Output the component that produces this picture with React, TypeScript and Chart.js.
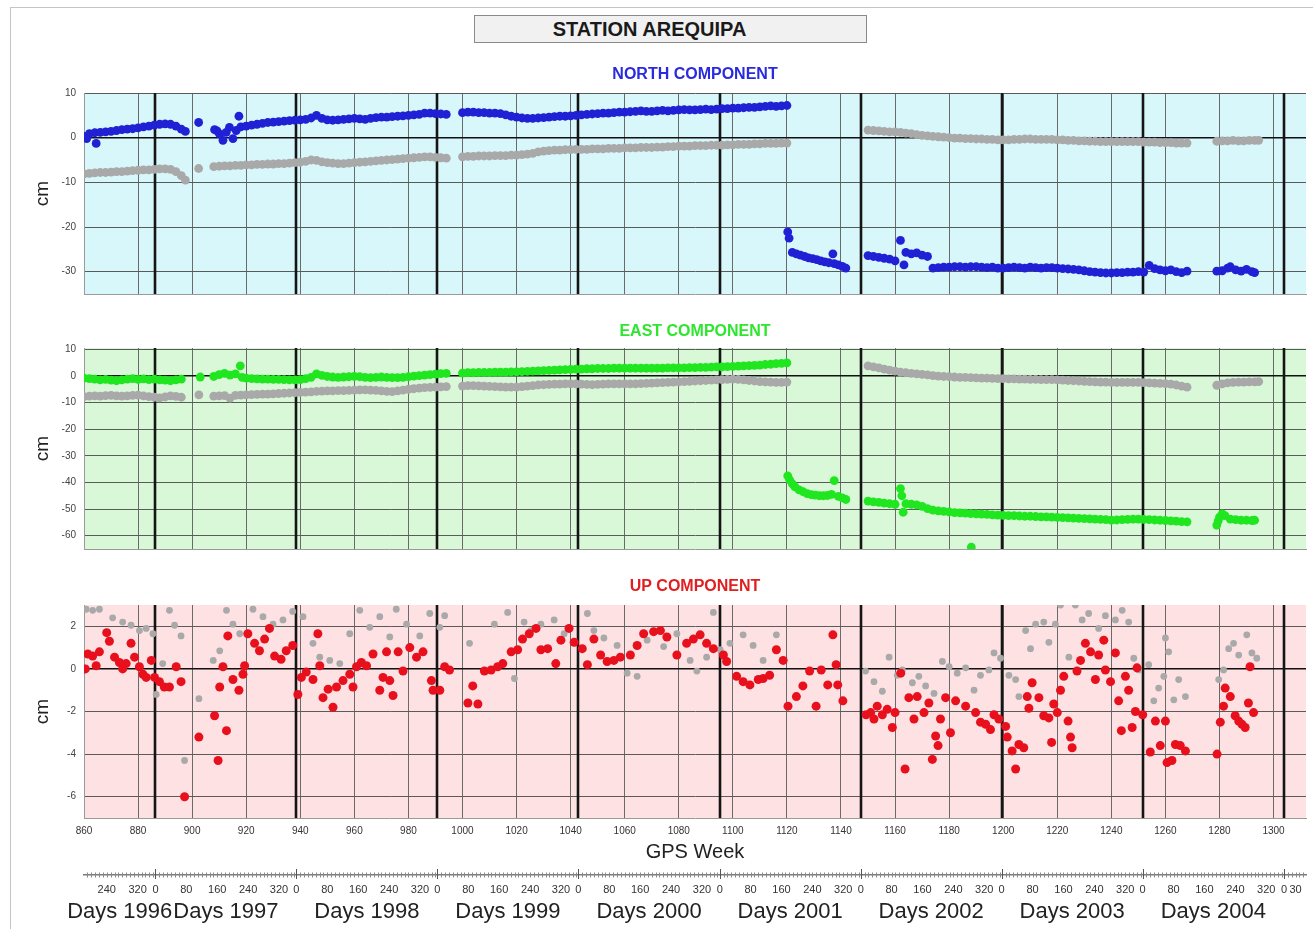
import React, { useEffect, useRef } from "react";
import { Chart, registerables } from "chart.js";
Chart.register(...registerables);

const FONT = "'Liberation Sans', Arial, Helvetica, sans-serif";

// GPS week at 1 January of each year (1996 .. 2005)
const YEAR_START_WEEKS = [834.14, 886.43, 938.57, 990.71, 1042.86, 1095.14, 1147.29, 1199.43, 1251.57, 1303.86];
const YEARS = [1996, 1997, 1998, 1999, 2000, 2001, 2002, 2003, 2004, 2005];
const GPS_WEEK_TICKS = [860, 880, 900, 920, 940, 960, 980, 1000, 1020, 1040, 1060, 1080, 1100, 1120, 1140, 1160, 1180, 1200, 1220, 1240, 1260, 1280, 1300];
const DAY_TICKS = [0, 80, 160, 240, 320];
const LAST_YEAR_DAY_TICKS = [0, 30];
const NORTH_TICKS = [10, 0, -10, -20, -30];
const EAST_TICKS = [10, 0, -10, -20, -30, -40, -50, -60];
const UP_TICKS = [2, 0, -2, -4, -6];
const X_MIN = 860;
const X_MAX = 1312;

// ---------------- NORTH ----------------
const N_BLUE_A = [0.3, 0.9, 1.1, 1.2, 1.3, 1.4, 1.6, 1.8, 1.9, 2.0, 2.2, 2.4, 2.6, 2.8, 3.0, 3.1, 3.0, 2.6, 1.9]; // 860.. step 2
const N_BLUE_X = [[861, -0.2], [864.5, -1.3], [897.5, 1.4], [902.4, 3.4], [908.3, 1.8], [909.2, 1.5], [910.1, 0.85], [911.4, -0.6], [912.6, 1.2], [913.8, 2.3], [915.1, -0.2], [916.3, 1.6], [917.3, 4.8]];
const N_BLUE_C = [2.4, 2.6, 2.8, 3.0, 3.2, 3.4, 3.5, 3.6, 3.7, 3.8, 3.9, 4.0, 4.1, 4.4, 5.0, 4.3, 4.0, 3.9, 4.0, 4.1, 4.2, 4.3, 4.2, 4.1, 4.3, 4.5, 4.6, 4.6, 4.7, 4.8, 4.9, 5.0, 5.1, 5.2, 5.5, 5.5, 5.4, 5.3, 5.2]; // 918.. step 2
const N_BLUE_D = [5.6, 5.7, 5.7, 5.6, 5.6, 5.5, 5.5, 5.4, 5.1, 4.8, 4.6, 4.4, 4.3, 4.3, 4.4, 4.5, 4.6, 4.7, 4.8, 4.8, 4.9, 5.0, 5.1, 5.2, 5.3, 5.4, 5.5, 5.5, 5.6, 5.7, 5.7, 5.8, 5.9, 6.0, 5.9, 5.9, 6.0, 6.1, 6.0, 6.1, 6.2, 6.3, 6.2, 6.2, 6.3, 6.4, 6.3, 6.4, 6.5, 6.5, 6.6, 6.6, 6.7, 6.8, 6.8, 6.9, 7.0, 7.1, 7.0, 7.1, 7.2]; // 1000.. step 2
const N_BLUE_Q = [[1120.3, -21.1], [1120.8, -22.5], [1122, -25.7], [1123.5, -26.0], [1125, -26.3], [1126.5, -26.6], [1128, -26.9], [1129.5, -27.1], [1131, -27.3], [1132.5, -27.6], [1134, -27.8], [1135.5, -28.0], [1137, -26.0], [1137.5, -28.2], [1139, -28.5], [1140.5, -28.8], [1141.8, -29.2],
  [1150, -26.4], [1152, -26.6], [1154, -26.8], [1156, -27.0], [1158, -27.2], [1160, -27.6], [1162, -23.0], [1163.3, -28.5], [1164, -25.7], [1166, -26.0], [1168, -25.8], [1170, -26.3], [1172, -26.6]];
const N_BLUE_E = [-29.2, -29.1, -29.0, -29.0, -28.9, -28.9, -29.0, -28.9, -28.9, -29.0, -29.1, -29.0, -29.2, -29.2, -29.1, -29.0, -29.1, -29.2, -29.0, -29.1, -29.2, -29.1, -29.1, -29.2, -29.3, -29.4, -29.5, -29.6, -29.8, -30.0, -30.1, -30.2, -30.3, -30.3, -30.2, -30.2, -30.1, -30.1, -30.0, -30.1, -28.6, -29.3, -29.6, -29.8, -29.6, -30.0, -30.2, -29.9]; // 1174.. step 2
const N_BLUE_F = [[1279, -29.9], [1281, -29.8], [1283, -29.2], [1284, -28.9], [1286, -29.6], [1288, -29.9], [1290, -29.5], [1292, -30.0], [1293, -30.2]];

const N_GRAY_A = [-8.1, -8.0, -7.9, -7.8, -7.8, -7.7, -7.6, -7.6, -7.5, -7.4, -7.3, -7.2, -7.2, -7.1, -7.0, -7.0, -7.1, -7.6, -8.5]; // 860.. step 2
const N_GRAY_X = [[897.5, -9.5], [902.4, -6.9]];
const N_GRAY_C = [-6.5, -6.4, -6.3, -6.3, -6.2, -6.2, -6.1, -6.1, -6.0, -6.0, -5.9, -5.9, -5.8, -5.8, -5.7, -5.6, -5.5, -5.3, -5.0, -5.1, -5.4, -5.6, -5.7, -5.8, -5.8, -5.7, -5.6, -5.5, -5.4, -5.3, -5.2, -5.1, -5.0, -4.9, -4.8, -4.7, -4.6, -4.5, -4.4, -4.3, -4.3, -4.4, -4.5, -4.6]; // 908.. step 2
const N_GRAY_D = [-4.3, -4.2, -4.2, -4.1, -4.1, -4.1, -4.0, -4.0, -4.0, -3.9, -3.9, -3.8, -3.7, -3.5, -3.2, -3.0, -2.9, -2.8, -2.8, -2.7, -2.7, -2.6, -2.6, -2.6, -2.5, -2.5, -2.5, -2.4, -2.4, -2.4, -2.3, -2.3, -2.3, -2.2, -2.2, -2.2, -2.1, -2.1, -2.0, -2.0, -1.9, -1.9, -1.9, -1.8, -1.8, -1.8, -1.7, -1.7, -1.7, -1.6, -1.6, -1.5, -1.5, -1.5, -1.4, -1.4, -1.3, -1.3, -1.3, -1.2, -1.2]; // 1000.. step 2
const N_GRAY_E = [1.7, 1.6, 1.5, 1.4, 1.3, 1.3, 1.2, 1.0, 0.9, 0.7, 0.5, 0.4, 0.3, 0.2, 0.1, 0.0, -0.1, -0.1, -0.2, -0.2, -0.3, -0.3, -0.4, -0.4, -0.5, -0.5, -0.5, -0.4, -0.4, -0.3, -0.3, -0.4, -0.4, -0.4, -0.4, -0.5, -0.5, -0.6, -0.6, -0.7, -0.7, -0.8, -0.8, -0.9, -0.9, -0.9, -0.9, -0.9, -0.9, -0.9, -0.9, -1.0, -1.0, -1.0, -1.1, -1.1, -1.1, -1.2, -1.2, -1.2]; // 1150.. step 2
const N_GRAY_F = [[1279, -0.8], [1281, -0.7], [1283, -0.7], [1285, -0.6], [1287, -0.7], [1289, -0.7], [1291, -0.6], [1293, -0.6], [1294.5, -0.6]];

// ---------------- EAST ----------------
const E_GREEN_A = [-0.8, -1.0, -1.2, -1.5, -1.3, -1.6, -1.8, -1.5, -1.2, -1.0, -1.3, -1.1, -1.4, -1.2, -1.5, -1.6, -1.8, -1.5, -1.2]; // 860.. step 2
const E_GREEN_X = [[903, -0.4], [908, -0.2], [910, 0.5], [912, 1.0], [914, 0.3], [916, 0.8], [917.8, 3.8], [918.5, -0.5]];
const E_GREEN_C = [-0.8, -1.0, -1.1, -1.2, -1.2, -1.3, -1.3, -1.4, -1.5, -1.5, -1.4, -1.0, -0.5, 0.8, 0.2, -0.2, -0.4, -0.5, -0.4, -0.3, -0.2, -0.3, -0.5, -0.6, -0.5, -0.4, -0.5, -0.6, -0.6, -0.5, -0.3, -0.1, 0.1, 0.3, 0.5, 0.7, 0.9, 1.0]; // 920.. step 2
const E_GREEN_D = [1.1, 1.2, 1.2, 1.3, 1.3, 1.3, 1.4, 1.4, 1.4, 1.5, 1.5, 1.6, 1.7, 1.8, 1.9, 2.0, 2.1, 2.2, 2.3, 2.4, 2.5, 2.6, 2.6, 2.7, 2.7, 2.8, 2.8, 2.8, 2.9, 2.9, 2.9, 2.9, 2.9, 2.9, 2.9, 2.9, 2.9, 2.9, 3.0, 3.0, 3.0, 3.0, 3.1, 3.1, 3.2, 3.2, 3.3, 3.4, 3.4, 3.5, 3.6, 3.7, 3.8, 3.9, 4.0, 4.1, 4.3, 4.4, 4.6, 4.7, 4.9]; // 1000.. step 2
const E_GREEN_Q = [[1120.3, -37.5], [1121, -39.0], [1122, -40.5], [1123, -41.7], [1124.5, -42.8], [1126, -43.5], [1127.5, -44.2], [1129, -44.6], [1130.5, -44.8], [1132, -45.0], [1133.5, -45.0], [1135, -44.9], [1136.5, -44.5], [1137.5, -39.3], [1139, -45.2], [1140.5, -45.8], [1141.8, -46.4],
  [1150, -47.0], [1152, -47.3], [1154, -47.5], [1156, -47.8], [1158, -48.0], [1160, -48.2], [1162, -42.3], [1162.5, -45.0], [1163, -51.2], [1164, -48.0], [1166, -48.2], [1168, -48.4], [1170, -49.0], [1172, -49.8], [1188.2, -64.3]];
const E_GREEN_E = [-50.4, -50.7, -50.9, -51.1, -51.3, -51.4, -51.5, -51.7, -51.8, -51.9, -52.0, -52.2, -52.3, -52.4, -52.5, -52.5, -52.6, -52.7, -52.7, -52.8, -52.9, -52.9, -53.0, -53.1, -53.2, -53.3, -53.4, -53.5, -53.6, -53.7, -53.8, -53.9, -54.0, -54.2, -54.1, -54.0, -53.9, -53.8, -53.8, -53.9, -54.0, -54.1, -54.2, -54.3, -54.4, -54.5, -54.7, -54.8]; // 1174.. step 2
const E_GREEN_F = [[1279, -56.0], [1279.5, -54.5], [1280, -53.0], [1281, -51.8], [1282, -52.5], [1284, -53.8], [1286, -54.0], [1288, -54.2], [1290, -54.2], [1292, -54.3], [1293, -54.2]];

const E_GRAY_A = [-7.8, -7.6, -7.5, -7.6, -7.4, -7.3, -7.5, -7.6, -7.5, -7.3, -7.2, -7.5, -7.8, -8.0, -8.2, -7.9, -7.5, -7.7, -8.0]; // 860.. step 2
const E_GRAY_X = [[902.5, -7.1]];
const E_GRAY_C = [-7.6, -7.5, -7.4, -8.3, -7.3, -7.2, -7.1, -7.0, -6.9, -6.8, -6.8, -6.7, -6.6, -6.5, -6.4, -6.3, -6.2, -6.1, -6.0, -5.8, -5.7, -5.6, -5.6, -5.5, -5.5, -5.4, -5.3, -5.2, -5.2, -5.3, -5.4, -5.6, -5.8, -5.9, -5.6, -5.3, -5.0, -4.8, -4.6, -4.4, -4.3, -4.2, -4.1, -4.0]; // 908.. step 2
const E_GRAY_D = [-3.8, -3.6, -3.6, -3.7, -3.8, -3.9, -4.0, -4.1, -4.2, -4.2, -4.2, -4.0, -3.8, -3.6, -3.4, -3.3, -3.2, -3.1, -3.1, -3.0, -3.0, -3.0, -3.1, -3.2, -3.3, -3.2, -3.1, -3.0, -3.0, -3.0, -3.0, -3.0, -3.0, -2.9, -2.8, -2.7, -2.6, -2.5, -2.4, -2.3, -2.2, -2.1, -2.0, -1.9, -1.8, -1.7, -1.6, -1.5, -1.4, -1.3, -1.2, -1.3, -1.5, -1.7, -1.9, -2.1, -2.2, -2.3, -2.4, -2.4, -2.3]; // 1000.. step 2
const E_GRAY_E = [3.8, 3.4, 3.0, 2.6, 2.2, 1.8, 1.4, 1.2, 1.0, 0.8, 0.6, 0.4, 0.1, -0.1, -0.2, -0.3, -0.4, -0.5, -0.5, -0.6, -0.7, -0.8, -0.8, -0.9, -1.0, -1.0, -1.1, -1.1, -1.2, -1.2, -1.3, -1.3, -1.4, -1.4, -1.4, -1.5, -1.6, -1.7, -1.8, -1.9, -2.0, -2.1, -2.2, -2.3, -2.3, -2.4, -2.4, -2.4, -2.4, -2.4, -2.4, -2.5, -2.6, -2.7, -2.8, -2.9, -3.1, -3.4, -3.8, -4.2]; // 1150.. step 2
const E_GRAY_F = [[1279, -3.5], [1281, -3.0], [1283, -2.6], [1285, -2.4], [1287, -2.3], [1289, -2.3], [1291, -2.2], [1293, -2.2], [1294.5, -2.1]];

// ---------------- UP ----------------
const U_RED = [
  [860.5, 0], [861.4, 0.7], [863.2, 0.6], [864.5, 0.15], [865.7, 0.8], [868.4, 1.7], [869.4, 1.3], [871.3, 0.55], [873.1, 0.3], [874.3, 0], [875.6, 0.25], [877.4, 1.2], [878.7, 0.55], [880.5, 0.1], [881.8, -0.25], [883, -0.4], [884.9, 0.4], [886.1, -0.4], [887.9, -0.6], [889.7, -0.85], [891.6, -0.85], [894.1, 0.1], [895.9, -0.6], [897.2, -6.0],
  [902.5, -3.2], [908.3, -2.2], [909.6, -4.3], [910.2, -0.85], [911.4, 0.1], [912.7, -2.9], [913.2, 1.55], [915.1, -0.5], [917.3, -1.0], [918.8, -0.25], [919.4, 0.15], [920.6, 1.65], [923.1, 1.2], [924.9, 0.85], [926.8, 1.4], [928.6, 1.9], [930.5, 0.6], [932.9, 0.45], [934.8, 0.85], [937.2, 1.1],
  [939.1, -1.2], [940.4, -0.4], [942.2, -0.15], [944.7, -0.5], [946.5, 1.65], [947.2, 0.15], [948.4, -1.35], [950.3, -0.95], [952.1, -1.8], [953.4, -0.85], [955.8, -0.55], [958.3, -0.25], [959.5, -0.85], [960.8, 0.1], [962.6, 0.3], [964.5, 0.15], [966.9, 0.7], [969.4, -1.0], [970.6, -0.4], [971.9, 0.8], [973.1, -0.55], [974.3, -1.25], [976.2, 0.8], [978, -0.1], [980.5, 1.0], [983, 0.55], [985.4, 0.8], [988.5, -0.55], [989.1, -1.0],
  [991.6, -1.0], [993.4, 0.1], [995.2, -0.05], [1002, -1.6], [1003.8, -0.8], [1005.7, -1.65], [1008.1, -0.1], [1010.6, -0.05], [1013, 0.1], [1014.9, 0.25], [1018, 0.8], [1020.4, 0.9], [1022.2, 1.4], [1024.7, 1.65], [1027.2, 1.9], [1029, 0.9], [1031.5, 0.95], [1034.5, 0.25], [1036.4, 1.35], [1039.4, 1.9], [1041.3, 1.25],
  [1044.3, 0.95], [1046.2, 0.2], [1048.6, 1.4], [1051.1, 0.65], [1053.5, 0.35], [1056, 0.4], [1058.4, 0.55], [1062.1, 0.65], [1064.6, 1.1], [1067, 1.65], [1070.7, 1.75], [1073.2, 1.8], [1075.6, 1.5], [1079.3, 0.65], [1082.9, 1.2], [1085.4, 1.4], [1087.9, 1.6], [1090.3, 1.2], [1092.8, 0.95],
  [1096.5, 0.65], [1097.7, 0.35], [1101.4, -0.35], [1103.8, -0.6], [1106.3, -0.75], [1109.4, -0.5], [1111.2, -0.45], [1113.6, -0.3], [1116.1, 0.9], [1118.6, 0.4], [1120.4, -1.75], [1123.5, -1.3], [1125.9, -0.8], [1128.4, -0.1], [1130.8, -1.75], [1132.7, -0.05], [1135.1, -0.75], [1137, 1.6], [1138.2, 0.2], [1138.8, -0.75], [1140.7, -1.5],
  [1149.3, -2.15], [1151, -2.05], [1152.2, -2.35], [1153.4, -1.75], [1155.3, -2.15], [1157.1, -1.9], [1159, -2.75], [1160, -2.05], [1162.1, -0.2], [1163.7, -4.7], [1165.1, -1.35], [1167, -2.35], [1168.2, -1.3], [1170.7, -2.05], [1172.5, -1.6], [1173.8, -4.25], [1175, -3.15], [1175.9, -3.6], [1176.8, -2.35], [1178.7, -1.35], [1180.5, -3.0], [1182.4, -1.5], [1186.1, -1.75], [1189.8, -2.05], [1191.6, -2.5], [1193.5, -2.6], [1195.3, -2.85], [1196.6, -2.15], [1198.4, -2.35],
  [1200.9, -2.7], [1201.5, -3.2], [1203.3, -3.85], [1204.6, -4.7], [1205.8, -3.55], [1207.6, -3.7], [1208.9, -1.3], [1209.5, -1.85], [1210.7, -0.65], [1213.2, -1.35], [1215, -2.2], [1216.9, -2.3], [1217.9, -3.45], [1218.7, -1.65], [1220, -2.05], [1221.2, -1.0], [1222.4, -0.35], [1224, -2.45], [1224.9, -3.2], [1225.5, -3.7], [1227.3, -0.1], [1228.6, 0.4], [1230.4, 1.2], [1232.3, 0.8], [1234.1, -0.5], [1235.3, 0.65], [1237.2, 1.35], [1237.8, -0.05], [1239.7, -0.6], [1241.5, 0.75], [1242.7, -1.5], [1243.7, -2.9], [1245.2, -0.35], [1246.4, -1.0], [1247.7, -2.75], [1248.9, -2.0], [1249.5, 0.05],
  [1251.6, -2.15], [1254.4, -3.9], [1256.3, -2.45], [1258.1, -3.6], [1260, -2.45], [1260.6, -4.4], [1262.4, -4.3], [1263.7, -3.55], [1265.5, -3.6], [1267.4, -3.85], [1279.1, -4.0], [1280.3, -2.5], [1281.5, -1.75], [1282.1, -0.9], [1284, -1.3], [1285.8, -2.2], [1287.1, -2.45], [1288.3, -2.6], [1289.5, -2.75], [1290.7, -1.6], [1291.3, 0.1], [1292.6, -2.05],
];
const U_GRAY = [
  [860.8, 2.8], [863.2, 2.75], [865.7, 2.8], [870.6, 2.4], [874.3, 2.2], [877.4, 2.05], [880.5, 1.8], [883, 1.9], [885.5, 1.65], [886.7, -1.2], [889.1, 0.25], [891.6, 2.75], [893.5, 2.05], [895.9, 1.55], [897.2, -4.3], [902.5, -1.4], [907.8, 0.4], [910.2, 0.85], [912.7, 2.75], [915.1, 2.1], [917.6, 1.65], [922.5, 2.8], [926.2, 2.45], [929.9, 2.1], [933.6, 2.3], [937.2, 2.7],
  [941, 2.45], [944.7, 1.2], [947.2, 0.55], [950.9, 0.4], [954.6, 0.25], [958.3, 1.65], [962, 2.75], [965.7, 1.95], [969.4, 2.45], [973.1, 1.5], [975.5, 2.8], [979.3, 2.1], [984.2, 1.55], [987.9, 2.6], [991.6, 1.95],
  [993.4, 2.5], [1002.6, 1.2], [1011.8, 2.1], [1016.7, 2.65], [1019.2, -0.45], [1022.8, 2.2], [1025.3, 1.8], [1029, 2.1], [1033.9, 2.3], [1037.6, 1.65], [1046.2, 2.6], [1048.6, 1.8], [1052.3, 1.45], [1057.2, 1.1], [1060.9, -0.2], [1064.6, -0.35], [1068.3, 1.35], [1074.4, 1.05], [1079.3, 1.65], [1084.2, 0.4], [1086.7, -0.1], [1090.3, 0.55], [1092.8, 2.65], [1095.3, 0.9], [1098.9, 1.2], [1103.8, 1.6], [1107.5, 1.1], [1111.2, 0.4], [1116.1, 1.6],
  [1149.1, -0.1], [1152.2, -0.6], [1155.3, -1.05], [1157.8, 0.55], [1160.8, -0.3], [1162.7, -0.05], [1166.4, -0.65], [1168.8, -0.35], [1171.3, -0.8], [1174.4, -1.15], [1177.5, 0.35], [1180, 0.1], [1183, -0.2], [1186.1, 0.05], [1189.2, -1.0], [1191.6, -0.3], [1194.7, -0.05], [1196.6, 0.75], [1199, 0.5],
  [1202.1, -0.3], [1204.6, -0.5], [1205.8, -1.3], [1208.3, 1.8], [1210.1, 0.95], [1212, 2.1], [1215, 2.2], [1216.9, 1.25], [1219.3, 2.1], [1221.2, 3.0], [1224.3, 0.55], [1226.7, 3.0], [1229.2, 2.3], [1231.6, 2.6], [1235.3, 1.9], [1237.8, 2.5], [1241.5, 2.3], [1244, 2.75], [1246.4, 2.2], [1248.3, 0.5], [1250.1, -0.05],
  [1253.8, 0.2], [1255.7, -1.5], [1257.5, -0.9], [1259.4, -0.35], [1260, 1.45], [1261.2, 0.8], [1263.1, -1.45], [1264.9, -0.5], [1267.4, -1.3], [1279.7, -0.5], [1281.5, -0.05], [1283.4, 0.95], [1285.2, 1.2], [1287.1, 0.65], [1290.1, 1.6], [1292, 0.75], [1293.8, 0.5],
];

// ---------------- helpers ----------------
const run = (start: number, step: number, vals: number[]) => vals.map((y, i) => ({ x: start + i * step, y }));
const pts = (pairs: number[][]) => pairs.map(([x, y]) => ({ x, y }));

const C_BLUE = "#2020d4";
const C_GREEN = "#20e620";
const C_RED = "#e8101c";
const C_GRAY = "#a9a9a9";

const yearOf = (v: number) => {
  let idx = 0;
  for (let i = 0; i < YEAR_START_WEEKS.length; i++) if (v >= YEAR_START_WEEKS[i] - 1e-6) idx = i;
  return idx;
};

const bgPlugin = {
  id: "panelBg",
  beforeDraw(chart: any, _a: any, opts: any) {
    if (!opts || !opts.color) return;
    const { ctx, chartArea: a } = chart;
    ctx.save();
    ctx.fillStyle = opts.color;
    ctx.fillRect(a.left, a.top, a.right - a.left, a.bottom - a.top);
    ctx.restore();
  },
};

const yearLinesPlugin = {
  id: "yearLines",
  beforeDatasetsDraw(chart: any, _a: any, opts: any) {
    if (!opts || !opts.show) return;
    const { ctx, chartArea: a, scales } = chart;
    const x = scales.x;
    ctx.save();
    ctx.strokeStyle = "#151515";
    ctx.lineWidth = 2.6;
    for (const w of YEAR_START_WEEKS) {
      if (w < x.min || w > x.max) continue;
      const px = Math.round(x.getPixelForValue(w));
      ctx.beginPath();
      ctx.moveTo(px, a.top);
      ctx.lineTo(px, a.bottom);
      ctx.stroke();
    }
    ctx.restore();
  },
};

const dayMinorPlugin = {
  id: "dayMinor",
  afterDraw(chart: any, _a: any, opts: any) {
    if (!opts || !opts.show) return;
    const { ctx, chartArea: a, scales } = chart;
    const x = scales.x;
    const y = a.bottom;
    ctx.save();
    ctx.strokeStyle = "#8a8a8a";
    ctx.lineWidth = 1;
    for (const w0 of YEAR_START_WEEKS) {
      for (let d = 0; d < 366; d += 10) {
        const w = w0 + d / 7;
        if (w < x.min || w > x.max) continue;
        const px = Math.round(x.getPixelForValue(w)) + 0.5;
        ctx.beginPath();
        ctx.moveTo(px, y - 2.5);
        ctx.lineTo(px, y + 2.5);
        ctx.stroke();
      }
      if (w0 >= x.min && w0 <= x.max) {
        const px = Math.round(x.getPixelForValue(w0)) + 0.5;
        ctx.strokeStyle = "#555";
        ctx.beginPath();
        ctx.moveTo(px, y - 6);
        ctx.lineTo(px, y + 4);
        ctx.stroke();
        ctx.strokeStyle = "#8a8a8a";
      }
    }
    ctx.restore();
  },
};

type PanelOpts = {
  title: string;
  titleColor: string;
  titlePad: { top: number; bottom: number };
  bg: string;
  min: number;
  max: number;
  ticks: number[];
  datasets: any[];
  showX: boolean;
  padBottom: number;
};

function panelConfig(p: PanelOpts): any {
  return {
    type: "scatter",
    data: { datasets: p.datasets },
    plugins: [bgPlugin, yearLinesPlugin],
    options: {
      animation: false,
      responsive: false,
      devicePixelRatio: 1,
      events: [],
      layout: { padding: { top: 0, left: 0, right: 7, bottom: p.padBottom } },
      plugins: {
        legend: { display: false },
        tooltip: { enabled: false },
        title: {
          display: true,
          text: p.title,
          color: p.titleColor,
          fullSize: false,
          font: { size: 16, weight: "bold", family: FONT, lineHeight: 1.2 },
          padding: p.titlePad,
        },
        panelBg: { color: p.bg },
        yearLines: { show: true },
      },
      scales: {
        x: {
          type: "linear",
          min: X_MIN,
          max: X_MAX,
          afterBuildTicks: (s: any) => {
            s.ticks = GPS_WEEK_TICKS.map((v) => ({ value: v }));
          },
          afterFit: (s: any) => {
            s.height = p.showX ? 46 : 0;
          },
          grid: { color: "#6a6a6a", lineWidth: 1, drawTicks: false },
          border: { display: true, color: "#9a9a9a", width: 1 },
          ticks: {
            display: p.showX,
            autoSkip: false,
            maxRotation: 0,
            padding: 7,
            color: "#333",
            font: { size: 10, family: FONT },
            callback: (v: any) => String(v),
          },
          title: {
            display: p.showX,
            text: "GPS Week",
            color: "#222",
            font: { size: 20, family: FONT, lineHeight: 1.2 },
            padding: { top: 0, bottom: 0 },
          },
        },
        y: {
          type: "linear",
          min: p.min,
          max: p.max,
          afterBuildTicks: (s: any) => {
            s.ticks = p.ticks.map((v) => ({ value: v }));
          },
          afterFit: (s: any) => {
            s.width = 84;
          },
          grid: {
            drawTicks: false,
            color: (c: any) => (c.tick && c.tick.value === 0 ? "#111" : "#5a5a5a"),
            lineWidth: (c: any) => (c.tick && c.tick.value === 0 ? 1.6 : 1),
          },
          border: { display: true, color: "#9a9a9a", width: 1 },
          ticks: {
            padding: 8,
            color: "#444",
            font: { size: 10, family: FONT },
            callback: (v: any) => String(v),
          },
          title: {
            display: true,
            text: "cm",
            color: "#222",
            font: { size: 19, family: FONT, lineHeight: 1.2 },
            padding: { top: 31, bottom: 0 },
          },
        },
      },
    },
  };
}

function ds(data: any[], color: string, radius: number) {
  return {
    data,
    backgroundColor: color,
    borderWidth: 0,
    pointRadius: radius,
    pointHoverRadius: radius,
  };
}

const northDatasets = () => [
  ds([...run(860, 2, N_BLUE_A), ...pts(N_BLUE_X), ...run(918, 2, N_BLUE_C), ...run(1000, 2, N_BLUE_D), ...pts(N_BLUE_Q), ...run(1174, 2, N_BLUE_E), ...pts(N_BLUE_F)], C_BLUE, 4.4),
  ds([...run(860, 2, N_GRAY_A), ...pts(N_GRAY_X), ...run(908, 2, N_GRAY_C), ...run(1000, 2, N_GRAY_D), ...run(1150, 2, N_GRAY_E), ...pts(N_GRAY_F)], C_GRAY, 4.4),
];
const eastDatasets = () => [
  ds([...run(860, 2, E_GREEN_A), ...pts(E_GREEN_X), ...run(920, 2, E_GREEN_C), ...run(1000, 2, E_GREEN_D), ...pts(E_GREEN_Q), ...run(1174, 2, E_GREEN_E), ...pts(E_GREEN_F)], C_GREEN, 4.4),
  ds([...run(860, 2, E_GRAY_A), ...pts(E_GRAY_X), ...run(908, 2, E_GRAY_C), ...run(1000, 2, E_GRAY_D), ...run(1150, 2, E_GRAY_E), ...pts(E_GRAY_F)], C_GRAY, 4.4),
];
const upDatasets = () => [ds(pts(U_RED), C_RED, 4.5), ds(pts(U_GRAY), C_GRAY, 3.4)];

function daysConfig(): any {
  const dayTicks: number[] = [];
  YEAR_START_WEEKS.forEach((w0, i) => {
    const days = i === YEAR_START_WEEKS.length - 1 ? LAST_YEAR_DAY_TICKS : DAY_TICKS;
    days.forEach((d) => {
      const w = w0 + d / 7;
      if (w >= X_MIN && w <= X_MAX) dayTicks.push(w);
    });
  });
  const yearMids: number[] = [];
  for (let i = 0; i < YEARS.length - 1; i++) {
    const a = Math.max(YEAR_START_WEEKS[i], X_MIN);
    const b = YEAR_START_WEEKS[i + 1];
    yearMids.push((a + b) / 2);
  }
  return {
    type: "scatter",
    data: { datasets: [] },
    plugins: [dayMinorPlugin],
    options: {
      animation: false,
      responsive: false,
      devicePixelRatio: 1,
      events: [],
      layout: { padding: { top: 0, left: 84, right: 7, bottom: 0 } },
      plugins: { legend: { display: false }, tooltip: { enabled: false }, dayMinor: { show: true } },
      scales: {
        x: {
          type: "linear",
          position: "bottom",
          weight: 0,
          min: X_MIN,
          max: X_MAX,
          afterBuildTicks: (s: any) => {
            s.ticks = dayTicks.map((v) => ({ value: v }));
          },
          afterFit: (s: any) => {
            s.height = 22;
          },
          grid: { display: false, drawTicks: false },
          border: { display: true, color: "#7a7a7a", width: 1.5 },
          ticks: {
            autoSkip: false,
            maxRotation: 0,
            padding: 8,
            color: "#333",
            font: { size: 11, family: FONT },
            callback: (v: any) => {
              const i = yearOf(v);
              return String(Math.round((v - YEAR_START_WEEKS[i]) * 7));
            },
          },
        },
        yr: {
          type: "linear",
          axis: "x",
          position: "bottom",
          weight: 1,
          min: X_MIN,
          max: X_MAX,
          afterBuildTicks: (s: any) => {
            s.ticks = yearMids.map((v) => ({ value: v }));
          },
          afterFit: (s: any) => {
            s.height = 32;
          },
          grid: { display: false, drawTicks: false },
          border: { display: false },
          ticks: {
            autoSkip: false,
            maxRotation: 0,
            padding: 1.5,
            color: "#222",
            font: { size: 22, family: FONT },
            callback: (v: any) => "Days " + YEARS[yearOf(v)],
          },
        },
        y: { display: false, min: 0, max: 1 },
      },
    },
  };
}

export default function App() {
  const nRef = useRef<HTMLCanvasElement>(null);
  const eRef = useRef<HTMLCanvasElement>(null);
  const uRef = useRef<HTMLCanvasElement>(null);
  const dRef = useRef<HTMLCanvasElement>(null);

  useEffect(() => {
    const charts: Chart[] = [];
    charts.push(
      new Chart(nRef.current!, panelConfig({
        title: "NORTH COMPONENT", titleColor: "#2a2ae0", titlePad: { top: 6.9, bottom: 8.9 },
        bg: "#d7f7fb", min: -35, max: 10, ticks: NORTH_TICKS, datasets: northDatasets(), showX: false, padBottom: 3,
      }))
    );
    charts.push(
      new Chart(eRef.current!, panelConfig({
        title: "EAST COMPONENT", titleColor: "#2ee62e", titlePad: { top: 9.4, bottom: 6.4 },
        bg: "#d8f8d8", min: -65, max: 10.5, ticks: EAST_TICKS, datasets: eastDatasets(), showX: false, padBottom: 3,
      }))
    );
    charts.push(
      new Chart(uRef.current!, panelConfig({
        title: "UP COMPONENT", titleColor: "#e02020", titlePad: { top: 9.4, bottom: 8.4 },
        bg: "#fde1e3", min: -7, max: 3, ticks: UP_TICKS, datasets: upDatasets(), showX: true, padBottom: 0,
      }))
    );
    charts.push(new Chart(dRef.current!, daysConfig()));
    return () => charts.forEach((c) => c.destroy());
  }, []);

  const cv = (top: number): React.CSSProperties => ({ position: "absolute", left: 0, top, display: "block" });

  return (
    <div style={{ position: "absolute", left: 0, top: 0, width: 1313, height: 929, background: "#fff", overflow: "hidden", fontFamily: FONT }}>
      <div style={{ position: "absolute", left: 10, top: 7, width: 1303, height: 922, borderLeft: "1px solid #c4c4c4", borderTop: "1px solid #c4c4c4" }} />
      <div
        style={{
          position: "absolute", left: 474, top: 15, width: 393, height: 28, boxSizing: "border-box",
          border: "1px solid #8a8a8a", background: "#f1f1f1", textAlign: "center", paddingRight: 42,
          fontWeight: "bold", fontSize: 20, lineHeight: "26px", color: "#1a1a1a",
        }}
      >
        STATION AREQUIPA
      </div>
      <canvas ref={nRef} width={1313} height={250} style={cv(58)} />
      <canvas ref={eRef} width={1313} height={250} style={cv(313)} />
      <canvas ref={uRef} width={1313} height={296} style={cv(568)} />
      <canvas ref={dRef} width={1313} height={65} style={cv(864)} />
    </div>
  );
}
